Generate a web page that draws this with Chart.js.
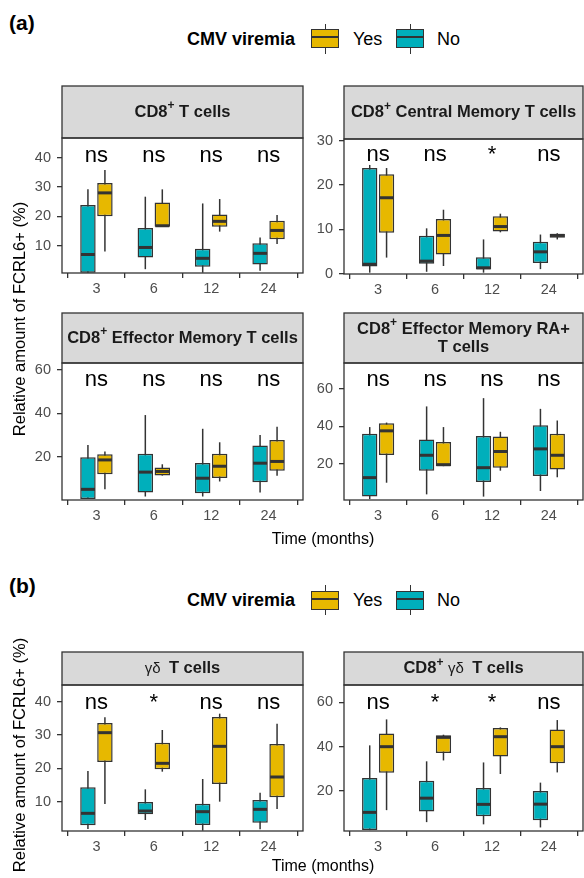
<!DOCTYPE html>
<html>
<head>
<meta charset="utf-8">
<script src="https://cdn.jsdelivr.net/npm/chart.js@4.4.0/dist/chart.umd.min.js"></script>
<style>
  html, body { margin: 0; padding: 0; background: #fff; }
  body { position: relative; width: 584px; height: 878px; overflow: hidden;
         font-family: 'Liberation Sans', Arial, Helvetica, sans-serif; }
  canvas { position: absolute; }
  .lbl { position: absolute; white-space: nowrap; color: #000; line-height: 1; }
  .key { position: absolute; box-sizing: border-box; border: 1.5px solid #333; }
  .whisk { position: absolute; width: 0; border-left: 1.5px solid #333; }
</style>
</head>
<body>
<script>
'use strict';

// time points (months)
const months = ['3', '6', '12', '24'];

// each entry: [min, q1, median, q3, max]
const cd8No = [[0.8, 0.8, 7.0, 23.9, 29.2], [2.0, 6.0, 9.4, 16.0, 26.7], [0.8, 2.8, 5.7, 9.0, 24.4], [1.5, 3.6, 7.4, 10.8, 12.8]];
const cd8Yes = [[8.0, 20.0, 28.0, 31.4, 35.8], [16.5, 16.5, 16.8, 24.7, 29.2], [14.8, 16.5, 18.3, 20.6, 25.9], [10.6, 12.2, 15.2, 18.5, 20.5]];

const cmNo = [[0.2, 1.6, 2.1, 23.8, 24.5], [0.4, 2.2, 2.8, 8.5, 10.2], [0.2, 0.9, 1.3, 3.7, 7.7], [1.0, 2.4, 4.9, 7.2, 8.8]];
const cmYes = [[3.6, 9.2, 17.1, 22.4, 23.8], [1.7, 4.3, 8.6, 12.3, 14.4], [9.3, 9.5, 10.6, 12.9, 13.5], [7.7, 8.1, 8.6, 9.0, 9.1]];

const emNo = [[0.7, 0.7, 5.1, 19.8, 25.4], [1.8, 3.6, 13.0, 21.4, 39.2], [1.8, 3.3, 10.2, 17.2, 32.9], [3.6, 8.4, 17.1, 25.2, 30.1]];
const emYes = [[5.1, 12.0, 18.6, 21.2, 22.5], [11.4, 11.4, 13.3, 15.1, 16.6], [8.7, 10.3, 15.7, 21.4, 26.7], [11.3, 13.6, 17.9, 27.8, 33.8]];

const emraNo = [[1.3, 2.6, 12.7, 36.0, 39.6], [3.8, 16.3, 24.6, 33.0, 50.6], [2.6, 10.4, 18.0, 34.8, 55.0], [5.6, 13.6, 28.0, 40.6, 49.3]];
const emraYes = [[10.0, 24.8, 37.6, 41.7, 42.0], [18.8, 18.8, 19.6, 31.7, 39.6], [16.4, 18.0, 26.6, 34.6, 37.1], [12.9, 17.0, 24.6, 36.0, 43.1]];

const gdNo = [[1.8, 2.9, 6.5, 14.3, 19.2], [4.5, 6.2, 7.2, 9.9, 13.7], [1.3, 3.0, 7.0, 9.4, 16.8], [1.7, 3.7, 7.7, 10.5, 12.7]];
const gdYes = [[9.3, 21.9, 30.7, 33.6, 35.3], [19.0, 19.7, 21.5, 27.7, 31.5], [10.0, 15.3, 26.6, 35.4, 36.4], [7.8, 11.3, 17.4, 27.3, 33.4]];

const cd8gdNo = [[2.4, 2.4, 10.4, 25.9, 40.6], [6.0, 10.8, 16.8, 24.7, 33.4], [5.0, 8.7, 14.0, 21.4, 32.9], [3.6, 6.9, 14.1, 20.0, 23.8]];
const cd8gdYes = [[11.4, 28.3, 40.0, 45.9, 52.3], [33.8, 37.1, 44.2, 45.1, 45.4], [27.7, 35.6, 44.5, 48.4, 48.7], [28.4, 32.5, 40.0, 47.8, 52.0]];

// significance labels per time point
const sigCd8 = ['ns', 'ns', 'ns', 'ns'];
const sigCm = ['ns', 'ns', '*', 'ns'];
const sigEm = ['ns', 'ns', 'ns', 'ns'];
const sigEmra = ['ns', 'ns', 'ns', 'ns'];
const sigGd = ['ns', '*', 'ns', 'ns'];
const sigCd8gd = ['ns', '*', '*', 'ns'];

// y tick labels
const ticksCd8 = [10, 20, 30, 40];
const ticksCm = [0, 10, 20, 30];
const ticksEm = [20, 40, 60];
const ticksEmra = [20, 40, 60];
const ticksGd = [10, 20, 30, 40];
const ticksCd8gd = [20, 40, 60];

const FONT = "'Liberation Sans', Arial, Helvetica, sans-serif";
const YES_COL = '#E7B800';
const NO_COL = '#00AFBB';
const INK = '#333333';

const SUP = {t: '+', sup: true};
const panels = [
  {left: 62, right: 303, stripTop: 86, top: 138, bottom: 273, yMin: 0.7, yMax: 46.7, ticks: ticksCd8,
   no: cd8No, yes: cd8Yes, sig: sigCd8, sigY: 38.6,
   title: [[{t: 'CD8'}, SUP, {t: ' T cells'}]]},
  {left: 344, right: 583, stripTop: 86, top: 139, bottom: 274, yMin: -0.1, yMax: 30.35, ticks: ticksCm,
   no: cmNo, yes: cmYes, sig: sigCm, sigY: 25.3,
   title: [[{t: 'CD8'}, SUP, {t: ' Central Memory T cells'}]]},
  {left: 62, right: 303, stripTop: 313, top: 363, bottom: 500, yMin: 0.2, yMax: 63.1, ticks: ticksEm,
   no: emNo, yes: emYes, sig: sigEm, sigY: 52.6,
   title: [[{t: 'CD8'}, SUP, {t: ' Effector Memory T cells'}]]},
  {left: 344, right: 583, stripTop: 313, top: 363, bottom: 500, yMin: 0.8, yMax: 73.7, ticks: ticksEmra,
   no: emraNo, yes: emraYes, sig: sigEmra, sigY: 61.6,
   title: [[{t: 'CD8'}, SUP, {t: ' Effector Memory RA+'}], [{t: 'T cells'}]]},
  {left: 62, right: 303, stripTop: 652, top: 685, bottom: 831, yMin: 1.2, yMax: 45, ticks: ticksGd,
   no: gdNo, yes: gdYes, sig: sigGd, sigY: 37.7,
   title: [[{t: 'γδ  ', plain: true}, {t: 'T cells'}]]},
  {left: 344, right: 583, stripTop: 652, top: 685, bottom: 831, yMin: 2.0, yMax: 67.8, ticks: ticksCd8gd,
   no: cd8gdNo, yes: cd8gdYes, sig: sigCd8gd, sigY: 56.8,
   title: [[{t: 'CD8'}, SUP, {t: ' '}, {t: 'γδ  ', plain: true}, {t: 'T cells'}]]}
];

// strip, whiskers, medians, labels and frame for one facet
function panelPlugin(p, stripY) {
  return {
    id: 'facet',
    beforeDraw(chart) {
      const ctx = chart.ctx, a = chart.chartArea;
      ctx.save();
      ctx.fillStyle = '#D9D9D9';
      ctx.fillRect(a.left, stripY, a.right - a.left, a.top - stripY);
      ctx.strokeStyle = INK;
      ctx.lineWidth = 1.3;
      ctx.strokeRect(a.left, stripY, a.right - a.left, a.top - stripY);
      const cx = (a.left + a.right) / 2, cy = (stripY + a.top) / 2;
      ctx.textBaseline = 'middle';
      ctx.textAlign = 'left';
      ctx.fillStyle = '#1A1A1A';
      p.title.forEach((line, li) => {
        const ly = cy + (li - (p.title.length - 1) / 2) * 18;
        const fonts = line.map(s => s.sup ? 'bold 12px ' + FONT : s.plain ? '15px ' + FONT : 'bold 16.5px ' + FONT);
        const widths = line.map((s, k) => { ctx.font = fonts[k]; return ctx.measureText(s.t).width; });
        let x = cx - widths.reduce((u, v) => u + v, 0) / 2;
        line.forEach((s, k) => {
          ctx.font = fonts[k];
          ctx.fillText(s.t, x, s.sup ? ly - 6 : ly);
          x += widths[k];
        });
      });
      ctx.restore();
    },
    beforeDatasetsDraw(chart) {
      const ctx = chart.ctx, ys = chart.scales.y;
      ctx.save();
      ctx.strokeStyle = INK;
      ctx.lineWidth = 1.5;
      chart.data.datasets.forEach((ds, di) => {
        chart.getDatasetMeta(di).data.forEach((bar, i) => {
          const s = ds.stats[i];
          ctx.beginPath();
          ctx.moveTo(bar.x, ys.getPixelForValue(s[0]));
          ctx.lineTo(bar.x, ys.getPixelForValue(s[4]));
          ctx.stroke();
        });
      });
      ctx.restore();
    },
    afterDatasetsDraw(chart) {
      const ctx = chart.ctx, ys = chart.scales.y, xs = chart.scales.x, a = chart.chartArea;
      ctx.save();
      ctx.strokeStyle = INK;
      ctx.lineWidth = 3;
      chart.data.datasets.forEach((ds, di) => {
        chart.getDatasetMeta(di).data.forEach((bar, i) => {
          const y = ys.getPixelForValue(ds.stats[i][2]);
          ctx.beginPath();
          ctx.moveTo(bar.x - bar.width / 2 + 0.75, y);
          ctx.lineTo(bar.x + bar.width / 2 - 0.75, y);
          ctx.stroke();
        });
      });
      ctx.fillStyle = '#000';
      ctx.font = '22px ' + FONT;
      ctx.textAlign = 'center';
      ctx.textBaseline = 'alphabetic';
      p.sig.forEach((s, i) => {
        ctx.fillText(s, xs.getPixelForValue(i + 1), ys.getPixelForValue(p.sigY));
      });
      ctx.lineWidth = 1.3;
      ctx.strokeRect(a.left, a.top, a.right - a.left, a.bottom - a.top);
      ctx.restore();
    }
  };
}

function boxSet(label, stats, color) {
  return {
    label: label,
    data: stats.map((d, i) => ({x: i + 1, y: [d[1], d[3]]})),
    stats: stats,
    backgroundColor: color,
    borderColor: INK,
    borderWidth: 1.5,
    borderSkipped: false,
    categoryPercentage: 0.592,
    barPercentage: 0.91
  };
}

const Y_AXIS_W = 44, X_AXIS_H = 30;
const tickFont = {family: FONT, size: 14.5};
const axisGrid = {drawOnChartArea: false, drawTicks: true, tickLength: 5, color: INK, lineWidth: 1.3};

panels.forEach(p => {
  const cl = p.left - Y_AXIS_W, ct = p.stripTop - 2;
  const cw = p.right + 2 - cl, ch = p.bottom + X_AXIS_H - ct;
  const cv = document.createElement('canvas');
  cv.width = cw;
  cv.height = ch;
  cv.style.left = cl + 'px';
  cv.style.top = ct + 'px';
  cv.style.width = cw + 'px';
  cv.style.height = ch + 'px';
  document.body.appendChild(cv);

  new Chart(cv, {
    type: 'bar',
    data: {datasets: [boxSet('No', p.no, NO_COL), boxSet('Yes', p.yes, YES_COL)]},
    options: {
      responsive: false,
      devicePixelRatio: 1,
      animation: false,
      layout: {padding: {top: p.top - ct, right: 2, left: 0, bottom: 0}},
      plugins: {legend: {display: false}, tooltip: {enabled: false}},
      scales: {
        x: {
          type: 'linear', min: 0.4, max: 4.6, offset: false,
          afterBuildTicks: s => { s.ticks = months.map((m, i) => ({value: i + 1})); },
          afterFit: s => { s.height = X_AXIS_H; },
          grid: axisGrid,
          border: {display: false},
          ticks: {color: '#4D4D4D', font: tickFont, padding: 2, maxRotation: 0, autoSkip: false,
                  callback: v => months[Math.round(v) - 1]}
        },
        y: {
          type: 'linear', min: p.yMin, max: p.yMax,
          afterBuildTicks: s => { s.ticks = p.ticks.map(v => ({value: v})); },
          afterFit: s => { s.width = Y_AXIS_W; },
          grid: axisGrid,
          border: {display: false},
          ticks: {color: '#4D4D4D', font: tickFont, padding: 6}
        }
      }
    },
    plugins: [panelPlugin(p, 2)]
  });
});

// plain text and legend pieces
function addText(txt, x, y, css) {
  const d = document.createElement('div');
  d.className = 'lbl';
  d.textContent = txt;
  d.style.left = x + 'px';
  d.style.top = y + 'px';
  d.style.cssText += css;
  document.body.appendChild(d);
  return d;
}

function addKey(x, y, color) {
  const w = document.createElement('div');
  w.className = 'whisk';
  w.style.left = (x + 13.5) + 'px';
  w.style.top = (y - 15) + 'px';
  w.style.height = '30px';
  document.body.appendChild(w);
  const k = document.createElement('div');
  k.className = 'key';
  k.style.left = x + 'px';
  k.style.top = (y - 9.5) + 'px';
  k.style.width = '28px';
  k.style.height = '19px';
  k.style.background = 'linear-gradient(to bottom, ' + color + ' 0, ' + color + ' 6.5px, #333 6.5px, #333 8.5px, ' +
    color + ' 8.5px, ' + color + ' 100%)';
  document.body.appendChild(k);
}

function addLegend(y) {
  addText('CMV viremia', 187, y, 'font-weight:bold;font-size:18px;transform:translateY(-50%);');
  addKey(311, y, YES_COL);
  addText('Yes', 353, y, 'font-size:18px;transform:translateY(-50%);');
  addKey(396, y, NO_COL);
  addText('No', 437, y, 'font-size:18px;transform:translateY(-50%);');
}

addText('(a)', 9, 22, 'font-weight:bold;font-size:21px;transform:translateY(-50%);');
addText('(b)', 9, 585, 'font-weight:bold;font-size:21px;transform:translateY(-50%);');
addLegend(38.5);
addLegend(600);
addText('Time (months)', 323, 539, 'font-size:16px;transform:translate(-50%,-50%);');
addText('Time (months)', 323, 866, 'font-size:16px;transform:translate(-50%,-50%);');
addText('Relative amount of FCRL6+ (%)', 19, 319, 'font-size:16.5px;transform:translate(-50%,-50%) rotate(-90deg);');
addText('Relative amount of FCRL6+ (%)', 19, 755, 'font-size:16.5px;transform:translate(-50%,-50%) rotate(-90deg);');
</script>
</body>
</html>
